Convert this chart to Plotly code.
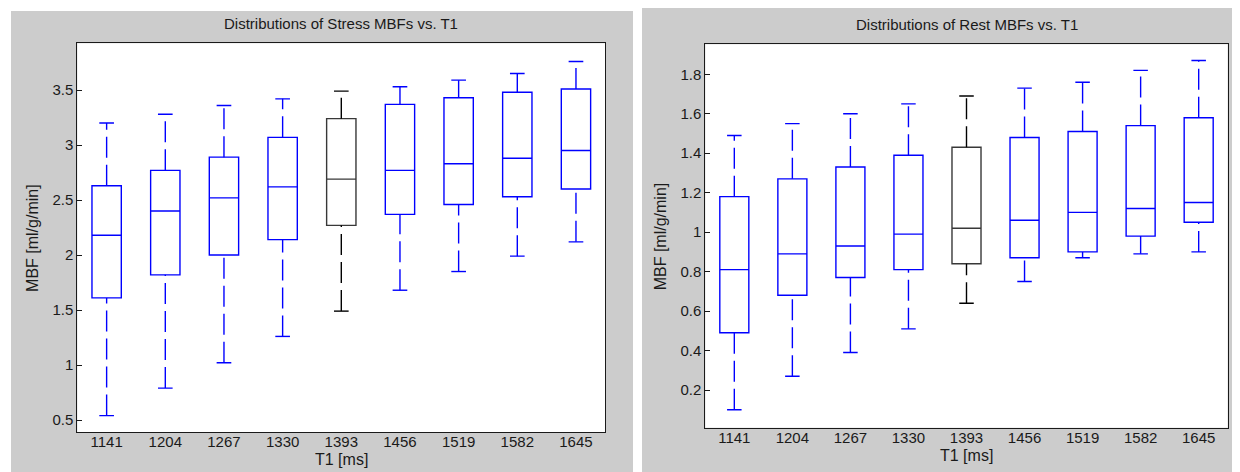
import plotly.graph_objects as go

# ---------------- data ----------------
categories = ["1141", "1204", "1267", "1330", "1393", "1456", "1519", "1582", "1645"]
highlight = "1393"

stress_lower = [0.54, 0.79, 1.02, 1.26, 1.49, 1.68, 1.85, 1.99, 2.12]
stress_q1 = [1.61, 1.82, 2.00, 2.14, 2.27, 2.37, 2.46, 2.53, 2.60]
stress_median = [2.18, 2.40, 2.52, 2.62, 2.69, 2.77, 2.83, 2.88, 2.95]
stress_q3 = [2.63, 2.77, 2.89, 3.07, 3.24, 3.37, 3.43, 3.48, 3.51]
stress_upper = [3.20, 3.28, 3.36, 3.42, 3.49, 3.53, 3.59, 3.65, 3.76]

rest_lower = [0.10, 0.27, 0.39, 0.51, 0.64, 0.75, 0.87, 0.89, 0.90]
rest_q1 = [0.49, 0.68, 0.77, 0.81, 0.84, 0.87, 0.90, 0.98, 1.05]
rest_median = [0.81, 0.89, 0.93, 0.99, 1.02, 1.06, 1.10, 1.12, 1.15]
rest_q3 = [1.18, 1.27, 1.33, 1.39, 1.43, 1.48, 1.51, 1.54, 1.58]
rest_upper = [1.49, 1.55, 1.60, 1.65, 1.69, 1.73, 1.76, 1.82, 1.87]

stress_ticks = [0.5, 1, 1.5, 2, 2.5, 3, 3.5]
rest_ticks = [0.2, 0.4, 0.6, 0.8, 1, 1.2, 1.4, 1.6, 1.8]

# ---------------- style ----------------
OFF = 8                      # page body margin in the browser
W, H = 1240 - OFF, 472 - OFF
BLUE = "#0000ff"
BLACK = "#000000"
GREY = "#cccccc"
FONT = "Liberation Sans, Arial, Helvetica, sans-serif"
TXT = "#1a1a1a"
LW = 1.4
BOX_W = 0.5
CAP_W = 0.25
DASH = "21px,7px"

# axes geometry in window pixels
L_AX = dict(x0=77.3, x1=605.3, y0=43.3, y1=432.0)
R_AX = dict(x0=705.3, x1=1227.7, y0=44.3, y1=427.7)


def px(x):
    return (x - OFF) / W


def py(y):
    return 1 - (y - OFF) / H


fig = go.Figure()


def add_panel(xa, ya, lower, q1, med, q3, upper):
    for i, cat in enumerate(categories):
        pos = i + 1
        col = BLACK if cat == highlight else BLUE
        boxcol = "#383838" if cat == highlight else BLUE
        fig.add_trace(go.Box(
            x=[pos], q1=[q1[i]], median=[med[i]], q3=[q3[i]],
            lowerfence=[q1[i]], upperfence=[q3[i]],
            width=BOX_W, whiskerwidth=0, boxpoints=False,
            line=dict(color=boxcol, width=LW), fillcolor="rgba(0,0,0,0)",
            xaxis=xa, yaxis=ya, showlegend=False, hoverinfo="skip"))
        # dashed whiskers (drawn from the bottom end upwards, like MATLAB)
        for ys in ([lower[i], q1[i]], [q3[i], upper[i]]):
            fig.add_trace(go.Scatter(
                x=[pos, pos], y=ys, mode="lines",
                line=dict(color=col, width=LW, dash=DASH),
                xaxis=xa, yaxis=ya, showlegend=False, hoverinfo="skip"))
        # whisker caps
        for yv in (lower[i], upper[i]):
            fig.add_trace(go.Scatter(
                x=[pos - CAP_W / 2, pos + CAP_W / 2], y=[yv, yv], mode="lines",
                line=dict(color=col, width=LW),
                xaxis=xa, yaxis=ya, showlegend=False, hoverinfo="skip"))


add_panel("x", "y", stress_lower, stress_q1, stress_median, stress_q3, stress_upper)
add_panel("x2", "y2", rest_lower, rest_q1, rest_median, rest_q3, rest_upper)

axis_common = dict(showline=True, linecolor="#1a1a1a", linewidth=1, mirror=True,
                   showgrid=False, zeroline=False,
                   tickfont=dict(family=FONT, size=15, color=TXT))

xcommon = dict(axis_common, range=[0.5, 9.5], tickmode="array",
               tickvals=list(range(1, len(categories) + 1)), ticktext=categories,
               ticks="", ticklabelstandoff=-4)
ycommon = dict(axis_common, ticks="inside", ticklen=5, tickcolor="#1a1a1a")


def rect(x0, x1, y0, y1, color):
    return dict(type="rect", xref="paper", yref="paper", layer="below",
                x0=px(x0), x1=px(x1), y0=py(y1), y1=py(y0),
                fillcolor=color, line=dict(width=0))


fig.update_layout(
    width=W, height=H,
    margin=dict(l=0, r=0, t=0, b=0),
    paper_bgcolor="white", plot_bgcolor="white",
    showlegend=False,
    xaxis=dict(xcommon, domain=[px(L_AX["x0"]), px(L_AX["x1"])], anchor="y"),
    yaxis=dict(ycommon, domain=[py(L_AX["y1"]), py(L_AX["y0"])], anchor="x",
               range=[0.391, 3.925], tickmode="array", tickvals=stress_ticks,
               ticktext=[f"{v:g}" for v in stress_ticks]),
    xaxis2=dict(xcommon, domain=[px(R_AX["x0"]), px(R_AX["x1"])], anchor="y2"),
    yaxis2=dict(ycommon, domain=[py(R_AX["y1"]), py(R_AX["y0"])], anchor="x2",
                range=[0.009, 1.952], tickmode="array", tickvals=rest_ticks,
                ticktext=[f"{v:g}" for v in rest_ticks]),
    shapes=[
        rect(11, 633, 11, 472, GREY),
        rect(642, 1240, 8, 472, GREY),
        rect(L_AX["x0"], L_AX["x1"], L_AX["y0"], L_AX["y1"], "white"),
        rect(R_AX["x0"], R_AX["x1"], R_AX["y0"], R_AX["y1"], "white"),
    ],
)

ann = []
for ax, title in ((L_AX, "Distributions of Stress MBFs vs. T1"),
                  (R_AX, "Distributions of Rest MBFs vs. T1")):
    cx = px((ax["x0"] + ax["x1"]) / 2)
    cy = (ax["y0"] + ax["y1"]) / 2
    ann.append(dict(text=title, xref="paper", yref="paper", x=cx, y=py(ax["y0"] - 9),
                    xanchor="center", yanchor="bottom", showarrow=False,
                    font=dict(family=FONT, size=15, color=TXT)))
    ann.append(dict(text="T1 [ms]", xref="paper", yref="paper", x=cx, y=py(ax["y1"] + 38),
                    xanchor="center", yanchor="bottom", showarrow=False,
                    font=dict(family=FONT, size=16, color=TXT)))
    ann.append(dict(text="MBF [ml/g/min]", xref="paper", yref="paper",
                    x=px(ax["x0"] - 45), y=py(cy), textangle=-90,
                    xanchor="center", yanchor="middle", showarrow=False,
                    font=dict(family=FONT, size=16, color=TXT)))
fig.update_layout(annotations=ann)

fig.write_html("out.html")
